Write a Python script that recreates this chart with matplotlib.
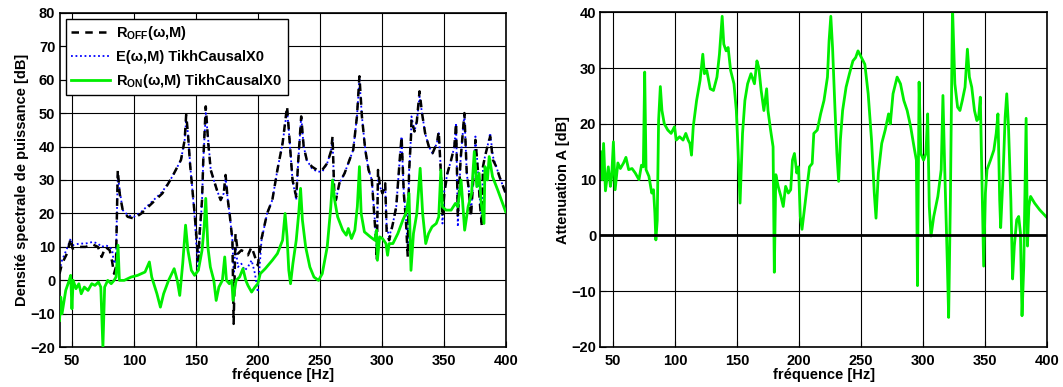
import matplotlib
matplotlib.use("Agg")
import matplotlib.pyplot as plt

plt.rcParams['font.family'] = ['Liberation Sans', 'DejaVu Sans']
plt.rcParams['font.weight'] = 'bold'
plt.rcParams['mathtext.fontset'] = 'custom'
plt.rcParams['mathtext.rm'] = 'Liberation Sans:bold'
plt.rcParams['mathtext.it'] = 'Liberation Sans:bold'
plt.rcParams['mathtext.bf'] = 'Liberation Sans:bold'

# ---- left panel: spectra (dB) ----
f_off = [40, 42, 46, 49, 50.5, 56, 61, 67, 71, 74,
         77, 80.5, 82.5, 84, 85.5, 87, 88.5, 91, 95, 100,
         106, 114.5, 123, 131, 138, 141, 142.2, 143.6, 145.5, 147,
         149, 150.5, 152, 153, 155, 156, 158, 160, 162, 164.5,
         167, 170, 172.5, 174, 175.5, 177.5, 179.5, 180.5, 182, 184,
         186.7, 189.5, 192, 195, 197.7, 200, 203, 207.5, 211.7, 215.8,
         220, 223.6, 225.6, 228, 231, 232.5, 235, 237, 239.5, 243.6,
         247.8, 252, 256, 259, 260.3, 261.7, 263, 265.8, 270, 274,
         277, 280, 282, 284, 286.7, 289.4, 292, 295, 296, 297,
         298.6, 300.6, 302.8, 304, 306, 309, 311.7, 314.5, 316, 317.8,
         319.5, 321, 322, 323.6, 324, 326.4, 328.3, 330.5, 332.5, 335,
         338, 341, 344.5, 346, 347.7, 349, 350.5, 353, 356, 358.6,
         360, 361.4, 363.6, 366.7, 368.6, 370, 372, 374, 375.6, 378,
         379, 380.8, 381.7, 383.3, 385.3, 387.5, 389.7, 392.4, 395, 398,
         400]
r_off = [2, 5, 8, 12.5, 9.5, 10, 10, 10.7, 10, 7,
         10, 9, 5.5, 2, 4, 33, 26, 21, 19, 18.5,
         20, 23, 26, 31, 36, 42, 49.5, 44, 34, 28,
         20, 13, 6, 14, 24, 36, 52, 41, 33, 30,
         27, 24, 26, 31.5, 25, 19, 12, -13, 14, 8,
         9, 8.5, 7.5, 10, 7, 4.5, 12.5, 20, 24, 33,
         41, 52, 42, 30, 25, 35, 49, 40, 36, 34,
         33, 33, 35, 38.5, 43, 26, 24, 29, 32, 36,
         39, 49, 61, 49, 39, 33, 30, 14, 6, 33,
         28, 26, 29, 14, 12, 17, 22, 36, 43, 26,
         18, 7, 32, 43, 48, 44.5, 47.5, 56.5, 50, 44,
         40, 38, 41, 44.5, 32, 19, 26, 32, 36, 40,
         47, 19, 36, 50, 32, 28, 19, 31, 42, 31,
         24, 16, 34, 37, 40, 43, 36, 34, 31, 28,
         26]
e_est = [3, 6, 9.5, 12.5, 10.5, 11, 11, 11.5, 11, 10,
         10.5, 10, 9, 5, 6, 32, 27, 21, 19.5, 19,
         20.5, 23.5, 26.5, 31, 36, 42, 48, 44, 34, 28,
         19, 10, 3, 12, 24, 36, 50, 42, 33, 30,
         27, 24, 26, 31, 25, 19, 12, 2, 10, 4,
         5, 3, 4, 6, 2, -3.5, 12, 20, 24, 33,
         41, 51, 42, 30, 24, 35, 49, 40, 36, 33.5,
         32.5, 32.5, 35, 38.5, 42, 26, 24, 29, 32, 36,
         39, 49, 60, 49, 39, 33, 30, 15, 8, 32,
         28, 26, 28, 16, 13, 17, 22, 36, 43, 26,
         19, 10, 32, 43, 49, 44.5, 47.5, 55, 50, 44,
         40, 38, 41, 44, 33, 17, 27, 32, 36, 40,
         47, 16, 36, 50, 32, 28, 20, 31, 43, 31,
         25, 17, 34, 37, 40, 44, 37, 34, 31, 28,
         26]

f_on = [40, 41, 42, 45, 47.8, 49, 50, 51, 53.3, 55.6,
        57.5, 60, 63, 66, 68.6, 71.4, 73.3, 75, 76.4, 78.9,
        81.7, 84, 85.6, 87.2, 88.3, 92.2, 97.8, 103, 109, 112.5,
        114.4, 118.6, 121.4, 124, 128, 132.5, 135, 137, 139.4, 141.7,
        143.6, 146.4, 149, 152, 155, 156.7, 158, 159.7, 161.7, 164.5,
        166.4, 168.6, 171.4, 173.3, 174.7, 177, 179, 180, 182.5, 185.3,
        188, 190.3, 192, 195, 197.7, 200, 202, 206, 211.7, 215.8,
        220, 222, 223.6, 225, 226.4, 228.3, 231, 233, 234.5, 236,
        238.6, 242, 245.3, 249, 252, 256, 258.9, 260.3, 262, 264.4,
        268.5, 271.4, 273, 275.6, 278.3, 280.3, 282, 283.4, 286, 290.8,
        294.4, 295.8, 296.5, 298.3, 300.6, 303.4, 304.7, 306, 309, 313,
        317, 320, 322, 323.6, 325.6, 328.3, 331, 333, 335.5, 337.8,
        340.6, 344, 346, 347.7, 349, 351.9, 356, 359.4, 361.4, 364,
        366.9, 369.7, 372.5, 374.7, 376.7, 378.6, 380.3, 382.5, 383.3, 385.3,
        386.7, 389.4, 393.6, 400]
r_on = [-12, -5, -10, -3, 0, 1.5, -8.5, 0, -2.5, -1,
        -4, -2, -3, -1, -1.5, -0.5, -2, -20, -2, 0,
        -1, 0, 1, 10.5, 0, 0, 1, 1.5, 2.5, 5.5,
        1, -4, -8, -4, 0, 3.5, 0, -4.5, 5, 16.5,
        9, 3, 1.5, 3, 9, 16, 24.5, 10, 4, 0,
        -6, -2, 0, 7, 0, -1, 0, -6, 0, 1,
        3.5, 0, -1.5, -3.5, -2, -1, 2, 3.5, 6, 8,
        12, 20, 13, 3, -1, 5, 12, 20, 27.5, 18,
        10, 4, 1, 0, 2, 10, 22, 30, 24, 19,
        15, 13.5, 15.5, 12.5, 15, 22, 34, 20, 14.5, 13,
        12, 15, 6, 13, 12.5, 11, 7.5, 11, 11, 14,
        18, 20.5, 26, 3, 14, 20, 33.5, 20, 11, 14,
        16, 17, 19, 33, 22, 21, 21, 23, 22, 30,
        15, 22, 26, 38.5, 28, 32, 23, 17, 34, 30,
        37, 31, 27, 20.5]

# ---- right panel: attenuation (dB) ----
f_att = [40, 41.4, 42.5, 44, 46.3, 48, 49, 50.4, 51.8, 54,
         56, 58.6, 60.5, 62.7, 65.4, 68, 71, 73, 74.5, 75.6,
         76.7, 79, 81.3, 82.7, 83.8, 84.6, 85.7, 86.8, 88.2, 89.5,
         91.4, 94.2, 96.9, 99.6, 101, 103.7, 106.5, 108.7, 110.6, 112,
         113.3, 114.7, 117.4, 120.2, 122.4, 123.7, 125.6, 128.4, 131, 133.8,
         135.8, 138, 139.3, 141.2, 142.8, 144.8, 147.5, 149.4, 150.8, 152.4,
         154.4, 156.3, 158.5, 161.2, 164, 166, 167.5, 169.4, 171.6, 173.8,
         174.9, 177, 179, 180, 181.2, 183.1, 185.3, 187.2, 189.1, 191.3,
         193.2, 194.6, 196.2, 198.1, 199.5, 200.9, 202.3, 204.5, 206.4, 208.3,
         210.5, 211.8, 214.6, 217.3, 220, 222.8, 224.1, 225.5, 226.9, 228.8,
         230.4, 231.8, 233.2, 235, 237.8, 240.5, 243.3, 245.5, 247.4, 250.1,
         252.9, 255.6, 258.3, 260.5, 261.9, 263.8, 266.5, 269.3, 272, 273.4,
         275.6, 278.9, 281.6, 284.3, 287, 289.8, 292.5, 294.4, 295.3, 296.6,
         298, 300.2, 302.1, 303.5, 304.8, 306.2, 308.4, 311.7, 314.4, 315.8,
         317.2, 319.4, 320.4, 321.8, 323.5, 325.4, 327.6, 329.5, 331.4, 333.6,
         335.5, 337.1, 339, 341.2, 343.1, 344.5, 345.9, 347.2, 348.6, 350,
         351.3, 354.1, 356.8, 358.7, 360.1, 361.5, 362.3, 364.2, 365.9, 367.2,
         368.6, 370.5, 371.9, 373.3, 375.2, 376.8, 378.2, 379.5, 380.9, 382.8,
         383.9, 385, 386.4, 389.6, 393.7, 400]
att = [15, 10, 16.5, 8, 12.3, 8.8, 10.5, 16.8, 8.2, 13,
       12, 13, 14, 11.8, 12, 11.2, 10, 12.6, 12.3, 29.3,
       11.8, 10.6, 7.6, 8.2, 4, -0.8, 2.7, 20.6, 26.7, 22.4,
       20, 18.9, 18.3, 19.5, 17.1, 17.7, 17.1, 18.3, 17.1, 16.5,
       14.4, 19.5, 24.2, 27.8, 32.5, 29, 29.6, 26.3, 26, 28.4,
       32.5, 39.3, 34.3, 33.1, 33.7, 29.6, 27.2, 22.4, 15.3, 5.8,
       18.3, 24.2, 27.2, 29, 27.2, 31.3, 30.1, 26, 22.4, 26.3,
       22.4, 18.9, 15.9, -6.6, 10.9, 8.8, 7, 5.2, 8.8, 7.6,
       8.2, 13.5, 14.7, 11.2, 12.3, 3.4, 1.1, 5.2, 8.8, 12.3,
       12.9, 18.3, 18.9, 21.8, 24.2, 28.4, 34.9, 39.3, 33.7, 23,
       14.7, 9.7, 17.1, 22.4, 26.6, 29, 31.3, 31.9, 33.1, 31.9,
       30.7, 25.4, 17.1, 7.6, 3.1, 11.2, 16.5, 18.9, 21.8, 20,
       25.4, 28.4, 27.2, 24.2, 22.4, 19.5, 15.9, 13.5, -9, 27.5,
       14.7, 13.5, 14.7, 21.8, 5.2, -0.1, 3.4, 7, 11.8, 25.1,
       12.3, -5.5, -14.7, 6.4, 41, 27.2, 23, 22.4, 24.2, 26.6,
       33.4, 28.4, 26.6, 22.4, 20.6, 21, 24.8, 10, -5.5, 7.6,
       11.8, 13.5, 15.3, 18.3, 21.8, 6.4, 1.4, 10.6, 21.2, 25.4,
       19.5, 6.4, -7.8, -1.9, 2.8, 3.4, 0.5, -14.4, -5.5, 21,
       -1.9, 5.2, 7, 5.8, 4.6, 3.1]

xticks = [50, 100, 150, 200, 250, 300, 350, 400]
green = '#00ee00'
fs = 10.5

fig = plt.figure(figsize=(10.63, 3.87), dpi=100)
ax1 = fig.add_axes([0.056, 0.1026, 0.4197, 0.8646])
ax2 = fig.add_axes([0.5649, 0.1034, 0.4205, 0.8646])

for ax in (ax1, ax2):
    ax.grid(True, color='black', linewidth=0.8)
    ax.set_axisbelow(True)
    ax.set_xlim(40, 400)
    ax.set_xticks(xticks)
    ax.tick_params(direction='in', length=4, width=0.8, labelsize=fs, pad=3)
    ax.tick_params(axis='x', pad=5)
    for lab in ax.get_xticklabels() + ax.get_yticklabels():
        lab.set_fontweight('bold')
    for s in ax.spines.values():
        s.set_linewidth(1.2)
    ax.set_xlabel('fréquence [Hz]', fontsize=fs, fontweight='bold', labelpad=0)

ax1.plot(f_off, e_est, color='blue', linestyle=(0, (1, 1.5)), linewidth=1.3,
         zorder=2)
ax1.plot(f_off, r_off, color='black', linestyle=(0, (3, 2.5)), linewidth=1.8,
         label=r'$R_{OFF}$(ω,M)', zorder=3)
ax1.plot([], [], color='blue', linestyle=(0, (1, 1.5)), linewidth=1.3,
         label='E(ω,M) TikhCausalX0')
ax1.plot(f_on, r_on, color=green, linewidth=2.0,
         label=r'$R_{ON}$(ω,M) TikhCausalX0', zorder=4)
ax1.set_ylim(-20, 80)
ax1.set_yticks(range(-20, 81, 10))
ax1.set_yticklabels(['\u221220', '\u221210'] + [str(v) for v in range(0, 81, 10)])
ax1.set_ylabel('Densité spectrale de puissance [dB]', fontsize=fs,
               fontweight='bold', labelpad=1)
leg = ax1.legend(loc='upper left', bbox_to_anchor=(0.008, 0.99), fontsize=fs,
                 frameon=True, fancybox=False, framealpha=1, edgecolor='black',
                 handlelength=2.7, handletextpad=0.4, borderpad=0.35,
                 labelspacing=0.55, borderaxespad=0.2)
leg.get_frame().set_linewidth(1.0)
for t in leg.get_texts():
    t.set_fontweight('bold')

ax2.plot(f_att, att, color=green, linewidth=2.0)
ax2.axhline(0, color='black', linewidth=2.0)
ax2.set_ylim(-20, 40)
ax2.set_yticks(range(-20, 41, 10))
ax2.set_yticklabels(['\u221220', '\u221210'] + [str(v) for v in range(0, 41, 10)])
ax2.set_ylabel('Attenuation A [dB]', fontsize=fs, fontweight='bold', labelpad=1)

fig.savefig('out.png', dpi=100)
